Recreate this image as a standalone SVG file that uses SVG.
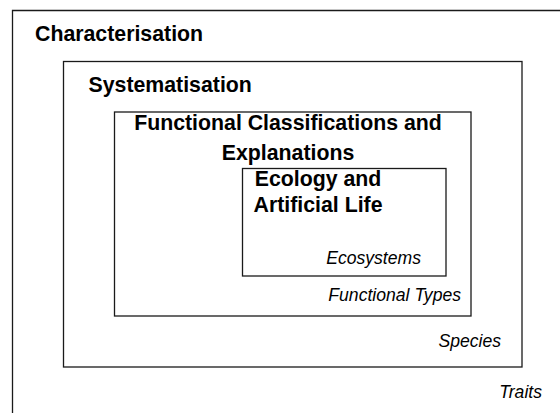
<svg xmlns="http://www.w3.org/2000/svg" width="560" height="413" viewBox="0 0 560 413">
<style>
.box{fill:none;stroke:#1a1a1a;stroke-width:1.3}
.t{font-family:"Liberation Sans",Arial,sans-serif;font-weight:bold;font-size:21.3px;fill:#000}
.i{font-family:"Liberation Sans",Arial,sans-serif;font-style:italic;font-size:17.6px;fill:#000;text-anchor:end}
</style>
<rect width="560" height="413" fill="#fff"/>
<g id="characterisation">
<path class="box" d="M12.5,413 V10.5 H560"/>
<text class="t" x="35" y="41">Characterisation</text>
<text class="i" x="542" y="398">Traits</text>
</g>
<g id="systematisation">
<rect class="box" x="63.5" y="61.5" width="458.5" height="305.5"/>
<text class="t" x="88.5" y="92">Systematisation</text>
<text class="i" x="501" y="347">Species</text>
</g>
<g id="functional">
<rect class="box" x="114.5" y="112" width="356.5" height="204"/>
<text class="t" x="288" y="130" text-anchor="middle">Functional Classifications and</text>
<text class="t" x="288" y="160" text-anchor="middle">Explanations</text>
<text class="i" x="461" y="301">Functional Types</text>
</g>
<g id="ecology">
<rect class="box" x="242.5" y="168.5" width="203.5" height="107.5"/>
<text class="t" x="318" y="185.5" text-anchor="middle">Ecology and</text>
<text class="t" x="318" y="212" text-anchor="middle">Artificial Life</text>
<text class="i" x="421" y="263.5">Ecosystems</text>
</g>
<g id="connectors"/>
</svg>
